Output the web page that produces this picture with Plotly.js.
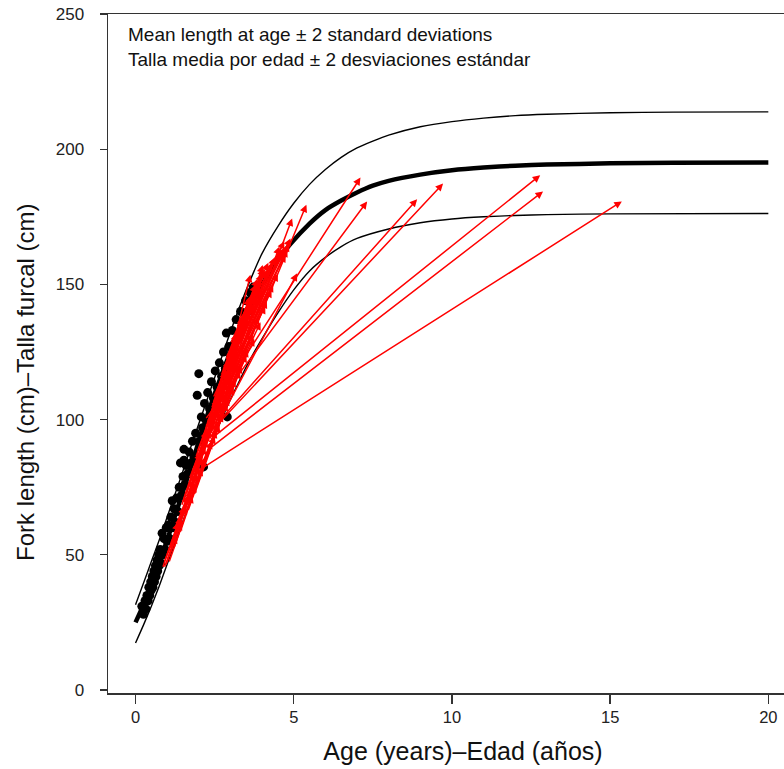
<!DOCTYPE html>
<html>
<head>
<meta charset="utf-8">
<script src="https://cdn.plot.ly/plotly-3.0.1.min.js"></script>
<style>
html,body{margin:0;padding:0;background:#fff;overflow:hidden;}
#chart{width:820px;height:769px;}
</style>
</head>
<body>
<div id="chart"></div>
<script>
// Mean length-at-age curve and +/- 2 SD curves
const meanAge = [0,0.25,0.5,0.75,1,1.25,1.5,1.75,2,2.25,2.5,2.75,3,3.25,3.5,3.75,4,4.5,4.9,5.5,6,6.5,7,7.5,8,9,10,11,12,13,15,17,20];
const meanLen = [25,31.5,39,47,55.5,64.5,73.5,82.5,92,101,109.5,117.5,125,132,138.5,144.5,150,159,165,172.5,177.5,181,184,186.5,188.3,190.6,192.2,193.2,193.9,194.3,194.8,195,195.1];
const upperAge = [0,0.25,0.5,0.75,1,1.25,1.5,1.75,2,2.25,2.5,2.75,3,3.25,3.5,3.75,4,4.5,5,5.5,6,6.5,7,7.5,8,9,10,11,12,13,15,17,20];
const upperLen = [31.5,39.5,47.5,55.5,64,72.5,81,90,98.5,107,115.5,124,132.5,140.5,148,155,161.5,171.5,180,187,192.5,197,200.5,203,205.2,208.3,210.2,211.5,212.4,212.9,213.5,213.7,213.8];
const lowerAge = [0,0.25,0.5,0.75,1,1.25,1.5,1.75,2,2.25,2.5,2.75,3,3.25,3.5,3.75,4,4.5,5,5.5,6,6.5,7,8,9,10,11,12,13,15,20];
const lowerLen = [17.4,24,31,38.5,46.5,54.5,62.5,70.5,78.5,86.5,94,101,107.5,113.5,119.5,125,130,139.5,148,155,160,164,167,170.5,172.8,174.2,175,175.5,175.8,176.1,176.2];

// Observed lengths at age (black dots)
const dotAge = [0.20,0.25,0.30,0.33,0.36,0.40,0.42,0.45,0.48,0.50,0.53,0.55,0.58,0.60,0.63,0.65,0.68,0.70,0.73,0.75,0.78,0.80,0.84,0.86,0.90,0.93,0.97,1.00,1.04,1.08,1.12,1.16,1.18,1.22,1.26,1.30,1.34,1.38,1.42,1.45,1.50,1.53,1.56,1.60,1.65,1.70,1.75,1.80,1.85,1.90,1.95,2.00,2.02,2.08,2.12,2.18,2.22,2.28,2.34,2.40,2.46,2.52,2.58,2.65,2.72,2.78,2.84,2.87,2.90,2.95,3.00,3.06,3.12,3.18,3.25,3.32,3.40,3.48,3.55,3.62,3.68,3.72,3.76,3.80,1.53,2.15];
const dotLen = [31,28,33,30,35,33,38,35,40,37,42,38,44,40,46,42,48,44,50,46,52,47,58,50,56,52,60,55,61,56,64,70,60,67,62,71,66,75,84,72,79,89,76,83,80,88,84,92,86,95,109,117,92,101,97,106,100,110,104,114,108,118,112,121,116,125,119,132,101,127,123,133,128,137,132,140,136,144,140,147,145,149,146,148,85,82.5];

// Tag-recapture growth increments: release age/length -> recapture age/length
const relAge = [2.35,2.25,2.10,2.10,2.30,2.20,2.40,2.45,2.50,2.35,2.70,2.90,2.80,2.90,3.10,3.20,
  0.95,1.05,1.10,1.20,1.30,1.35,1.45,1.55,1.60,1.70,1.80,1.85,1.95,2.00,2.05,2.10,2.20,2.25,2.30,2.40,2.45,2.55,2.60,2.70,2.80,2.90,3.00,1.50,1.75,2.00,2.15,1.25,2.35,2.50,0.90,1.00,2.65,3.10,
  1.40,1.55,1.70,1.80,1.95,2.05,2.15,2.25,2.35,2.45,2.55,2.65,2.75,2.85,2.95,3.05,2.20,2.00,1.85,1.65,2.40,2.60,2.50,3.20,3.30,1.15,1.30,
  0.85,0.90,1.00,1.05,1.15,1.25,1.35,1.45,1.55,1.60,1.75,1.80,1.90,1.95,2.05,2.10,2.20,2.25,2.35,2.40,2.50,2.55,2.65,2.70,2.80,2.85,2.95,3.00,3.10,3.20,3.30,2.45,2.75,3.40,
  1.20,1.40,1.65,1.85,2.00,2.15,2.30,2.45,2.60,2.75,2.90,3.05,2.20,2.45,2.70,2.95,3.15,1.50,1.70,1.90,2.55,2.85,3.25];
const relLen = [92.5,88.5,82,92,95,100,104,96,98,93,106,118,112,116,124,128,
  46,49,52,55,58,61,64,67,70,72,76,79,82,85,86,89,92,94,97,100,103,106,108,112,115,118,121,66,74,84,90,57,98,104,45,48,110,124,
  62,66,72,76,81,86,88,92,96,100,104,108,112,118,122,126,90,84,78,70,98,106,102,130,134,53,58,
  45,47,50,47,55,60,60,68,64,72,70,80,76,88,82,92,86,98,90,104,96,110,102,116,108,122,114,128,120,134,126,108,118,138,
  52,58,66,72,78,84,88,94,100,106,112,118,96,106,114,124,130,70,78,86,100,110,128];
const recAge = [12.79,12.88,15.37,9.72,8.90,7.32,7.11,5.40,4.95,5.11,4.02,3.63,4.85,4.80,4.90,4.75,
  1.45,1.60,1.85,1.70,2.05,1.90,2.25,2.10,2.45,2.30,2.60,2.50,2.80,2.70,3.00,2.60,3.10,2.90,3.25,3.05,3.40,3.20,3.55,3.35,3.70,3.50,3.80,2.70,3.10,3.40,3.60,2.35,3.75,3.90,1.30,2.00,3.85,3.75,
  2.00,2.35,2.55,2.40,2.85,2.75,3.05,3.15,3.30,3.45,3.60,3.70,3.85,3.95,4.10,3.90,3.50,3.20,2.95,2.65,4.20,4.40,4.65,3.65,3.95,1.75,2.20,
  1.35,1.55,1.45,1.80,1.95,1.65,2.20,2.05,2.40,2.30,2.55,2.45,2.75,2.70,2.95,2.85,3.15,3.05,3.35,3.25,3.55,3.40,3.70,3.60,3.90,3.80,4.10,4.00,4.30,4.20,4.50,4.60,4.70,4.45,
  1.90,2.10,2.50,2.65,2.90,3.10,3.30,3.50,3.75,3.95,4.15,4.35,2.95,3.20,3.50,3.85,4.05,2.25,2.40,2.60,4.30,4.55,4.75];
const recLen = [190.4,184.4,180.7,187.3,181.5,180.7,189.5,179.5,174.4,154.1,157.2,153.6,165,163,167,161,
  62,68,78,72,86,80,93,87,100,95,104,101,110,107,118,104,122,114,128,121,133,126,138,131,142,136,145,106,124,135,140,97,147,148,57,83,146,143,
  84,96,104,98,114,110,122,126,133,138,143,146,150,152,155,149,140,129,118,108,156,160,163,146,150,74,90,
  62,68,64,72,80,72,86,88,92,96,96,102,102,112,108,118,115,126,120,132,126,138,132,145,138,150,142,154,148,158,154,162,166,160,
  76,82,94,98,106,112,118,124,130,136,144,150,122,132,140,152,156,96,100,108,158,164,164];

const xTicks = [0,5,10,15,20];
const yTicks = [0,50,100,150,200,250];
const xTitle = 'Age (years)–Edad (años)';
const yTitle = 'Fork length (cm)–Talla furcal (cm)';
const noteLines = ['Mean length at age ± 2 standard deviations','Talla media por edad ± 2 desviaciones estándar'];

const FONT = 'Liberation Sans, Arial, Helvetica, sans-serif';

const traces = [
  {x: dotAge, y: dotLen, type: 'scatter', mode: 'markers', marker: {color: '#000', size: 9}, hoverinfo: 'skip', showlegend: false},
  {x: upperAge, y: upperLen, type: 'scatter', mode: 'lines', line: {color: '#000', width: 1.4, shape: 'spline', smoothing: 0.6}, showlegend: false},
  {x: lowerAge, y: lowerLen, type: 'scatter', mode: 'lines', line: {color: '#000', width: 1.4, shape: 'spline', smoothing: 0.6}, showlegend: false},
  {x: meanAge, y: meanLen, type: 'scatter', mode: 'lines', line: {color: '#000', width: 4.5, shape: 'spline', smoothing: 0.6}, showlegend: false}
];

const annotations = relAge.map((a, i) => ({
  x: recAge[i], y: recLen[i], xref: 'x', yref: 'y',
  ax: a, ay: relLen[i], axref: 'x', ayref: 'y',
  text: '', showarrow: true, arrowhead: 2, arrowsize: 1, arrowwidth: 1.5,
  arrowcolor: '#ff0000', standoff: 0, startstandoff: 0
}));
annotations.push({
  xref: 'paper', yref: 'paper', x: 0.026, y: 0.988, xanchor: 'left', yanchor: 'top',
  text: noteLines.join('<br>'), showarrow: false, align: 'left',
  font: {family: FONT, size: 19, color: '#111'}
});
// y-axis title, placed as in the original figure
annotations.push({
  xref: 'paper', yref: 'paper', x: -0.117, y: 0.458, xanchor: 'center', yanchor: 'middle',
  text: yTitle, textangle: -90, showarrow: false,
  font: {family: FONT, size: 24, color: '#111'}
});

const layout = {
  width: 820, height: 769,
  margin: {l: 108, r: 2, t: 14, b: 76},
  paper_bgcolor: '#fff', plot_bgcolor: '#fff',
  showlegend: false,
  font: {family: FONT, color: '#111'},
  xaxis: {
    range: [-0.87, 21.57], tickvals: xTicks, ticktext: xTicks.map(String),
    ticks: 'outside', ticklen: 9, tickwidth: 1.3, tickcolor: '#333',
    showline: true, linecolor: '#333', linewidth: 1.5, mirror: true,
    showgrid: false, zeroline: false,
    tickfont: {family: FONT, size: 16.5, color: '#222'},
    title: {text: xTitle, font: {family: FONT, size: 25, color: '#111'}, standoff: 17}
  },
  yaxis: {
    range: [-1.1, 250], tickvals: yTicks, ticktext: yTicks.map(String),
    ticks: 'outside', ticklen: 7, tickwidth: 1.3, tickcolor: '#333',
    showline: true, linecolor: '#333', linewidth: 1.5, mirror: true,
    showgrid: false, zeroline: false, ticklabelstandoff: 12,
    tickfont: {family: FONT, size: 17, color: '#222'}
  },
  annotations: annotations
};

Plotly.newPlot('chart', traces, layout, {displayModeBar: false, staticPlot: true});
</script>
</body>
</html>
